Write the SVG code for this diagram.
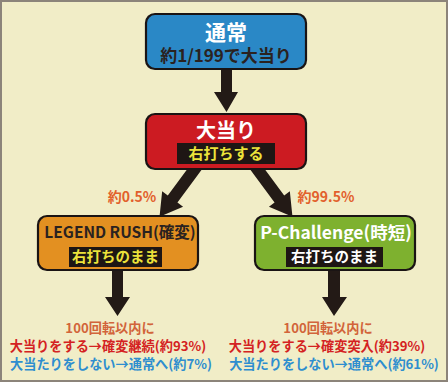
<svg xmlns="http://www.w3.org/2000/svg" width="448" height="382" viewBox="0 0 448 382">
<defs>
<style>
text{font-family:"Noto Sans CJK JP","Noto Sans",sans-serif;font-weight:bold;text-anchor:middle}
.box{stroke:#1a1414;stroke-width:2.2}
.lbl{fill:#1e1614}
.arw{fill:#231a16}
.ylw{fill:#ece23a}
.wht{fill:#ffffff}
.dark{fill:#2a2220}
.pct{fill:#e2602c;font-size:14px}
.n1{fill:#d2643a;font-size:13.2px}
.n2{fill:#d42222;font-size:13.2px}
.n3{fill:#2e8ecf;font-size:13.2px}
</style>
</defs>
<rect x="1" y="1" width="446" height="380" fill="#f1edc7" stroke="#8c847a" stroke-width="2"/>
<g id="connectors">
<polygon class="arw" points="221,69 232,69 232,92 238,92 226.5,112 214,92 221,92"/>
<g transform="translate(197,166) rotate(36.5)"><polygon class="arw" points="-6,0 6,0 6,41 13,41 0,63 -13,41 -6,41"/></g>
<g transform="translate(255,166) rotate(-36.5)"><polygon class="arw" points="-6,0 6,0 6,41 13,41 0,63 -13,41 -6,41"/></g>
<polygon class="arw" points="112,270 123,270 123,297 130,297 117.5,316 105,297 112,297"/>
<polygon class="arw" points="328,270 340,270 340,297 347,297 334,316 322,297 328,297"/>
<text class="pct" x="132" y="202">約0.5%</text>
<text class="pct" x="326" y="202">約99.5%</text>
</g>
<g id="normal">
<rect class="box" x="146" y="14" width="160" height="55" rx="9" fill="#2a88c6"/>
<text class="wht" x="226" y="40" font-size="21">通常</text>
<text class="dark" x="226" y="62" font-size="17">約1/199で大当り</text>
</g>
<g id="jackpot">
<rect class="box" x="146" y="114" width="160" height="55" rx="9" fill="#cc1b22"/>
<text class="wht" x="226" y="138" font-size="20">大当り</text>
<rect class="lbl" x="177" y="143" width="98" height="21"/>
<text class="ylw" x="226" y="159" font-size="15">右打ちする</text>
</g>
<g id="legend-rush">
<rect class="box" x="38" y="216" width="160" height="54" rx="9" fill="#e39021"/>
<text class="dark" x="120" y="238" font-size="15.5">LEGEND RUSH(確変)</text>
<rect class="lbl" x="69" y="247" width="93" height="20"/>
<text class="ylw" x="115.5" y="262" font-size="14.5">右打ちのまま</text>
</g>
<g id="p-challenge">
<rect class="box" x="255" y="216" width="160" height="54" rx="9" fill="#7eb12f"/>
<text class="wht" x="336" y="239" font-size="17.5">P-Challenge(時短)</text>
<rect class="lbl" x="286" y="247" width="97" height="20"/>
<text class="wht" x="334.5" y="262" font-size="14.5">右打ちのまま</text>
</g>
<g id="result-left">
<text class="n1" x="110" y="333">100回転以内に</text>
<text class="n2" x="108" y="351">大当りをする→確変継続(約93%)</text>
<text class="n3" x="111" y="369">大当たりをしない→通常へ(約7%)</text>
</g>
<g id="result-right">
<text class="n1" x="328" y="333">100回転以内に</text>
<text class="n2" x="327" y="351">大当りをする→確変突入(約39%)</text>
<text class="n3" x="334" y="369">大当たりをしない→通常へ(約61%)</text>
</g>
</svg>
